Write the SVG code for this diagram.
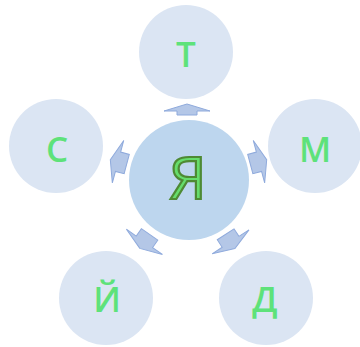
<svg xmlns="http://www.w3.org/2000/svg" width="360" height="347" viewBox="0 0 360 347">
<style>
.outer{fill:#dbe5f3}
.center{fill:#bdd6ee}
.lt{font-family:"Open Sans","DejaVu Sans",sans-serif;font-size:35px;font-weight:600;fill:#5ee27a;text-anchor:middle}
.big{font-family:"Open Sans","DejaVu Sans",sans-serif;font-size:59px;font-weight:400;fill:#66dd6c;stroke:#4e8a34;stroke-width:2.2;text-anchor:middle}
.arr{fill:#b4c7e7;stroke:#8faadc;stroke-width:1;stroke-linejoin:miter}
</style>
<defs>
<path id="a" d="M0,-5.5 L23,1.5 L10,1.5 L10,5.5 L-10,5.5 L-10,1.5 L-23,1.5 Z"/>
<path id="b" d="M0,-9 L22,-1 L10,-1 L10,8 L-10,8 L-10,-1 L-22,-1 Z"/>
</defs>
<g id="connectors">
<use href="#a" class="arr" transform="translate(187,109.5)"/>
<use href="#b" class="arr" transform="translate(258,162) rotate(75)"/>
<use href="#b" class="arr" transform="translate(119,162) rotate(-75)"/>
<use href="#b" class="arr" transform="translate(230,241) rotate(147)"/>
<use href="#b" class="arr" transform="translate(145,241) rotate(-145)"/>
</g>
<g id="center"><circle class="center" cx="189" cy="180" r="60"/><text class="big" x="188" y="199">Я</text></g>
<g id="t"><circle class="outer" cx="186" cy="52" r="47"/><text class="lt" x="186" y="67">Т</text></g>
<g id="m"><circle class="outer" cx="315" cy="146" r="47"/><text class="lt" x="315" y="162">М</text></g>
<g id="s"><circle class="outer" cx="56" cy="146" r="47"/><text class="lt" x="57" y="162">С</text></g>
<g id="y"><circle class="outer" cx="106" cy="298" r="47"/><text class="lt" x="107" y="312">Й</text></g>
<g id="d"><circle class="outer" cx="266" cy="298" r="47"/><text class="lt" x="265" y="312">Д</text></g>
</svg>
